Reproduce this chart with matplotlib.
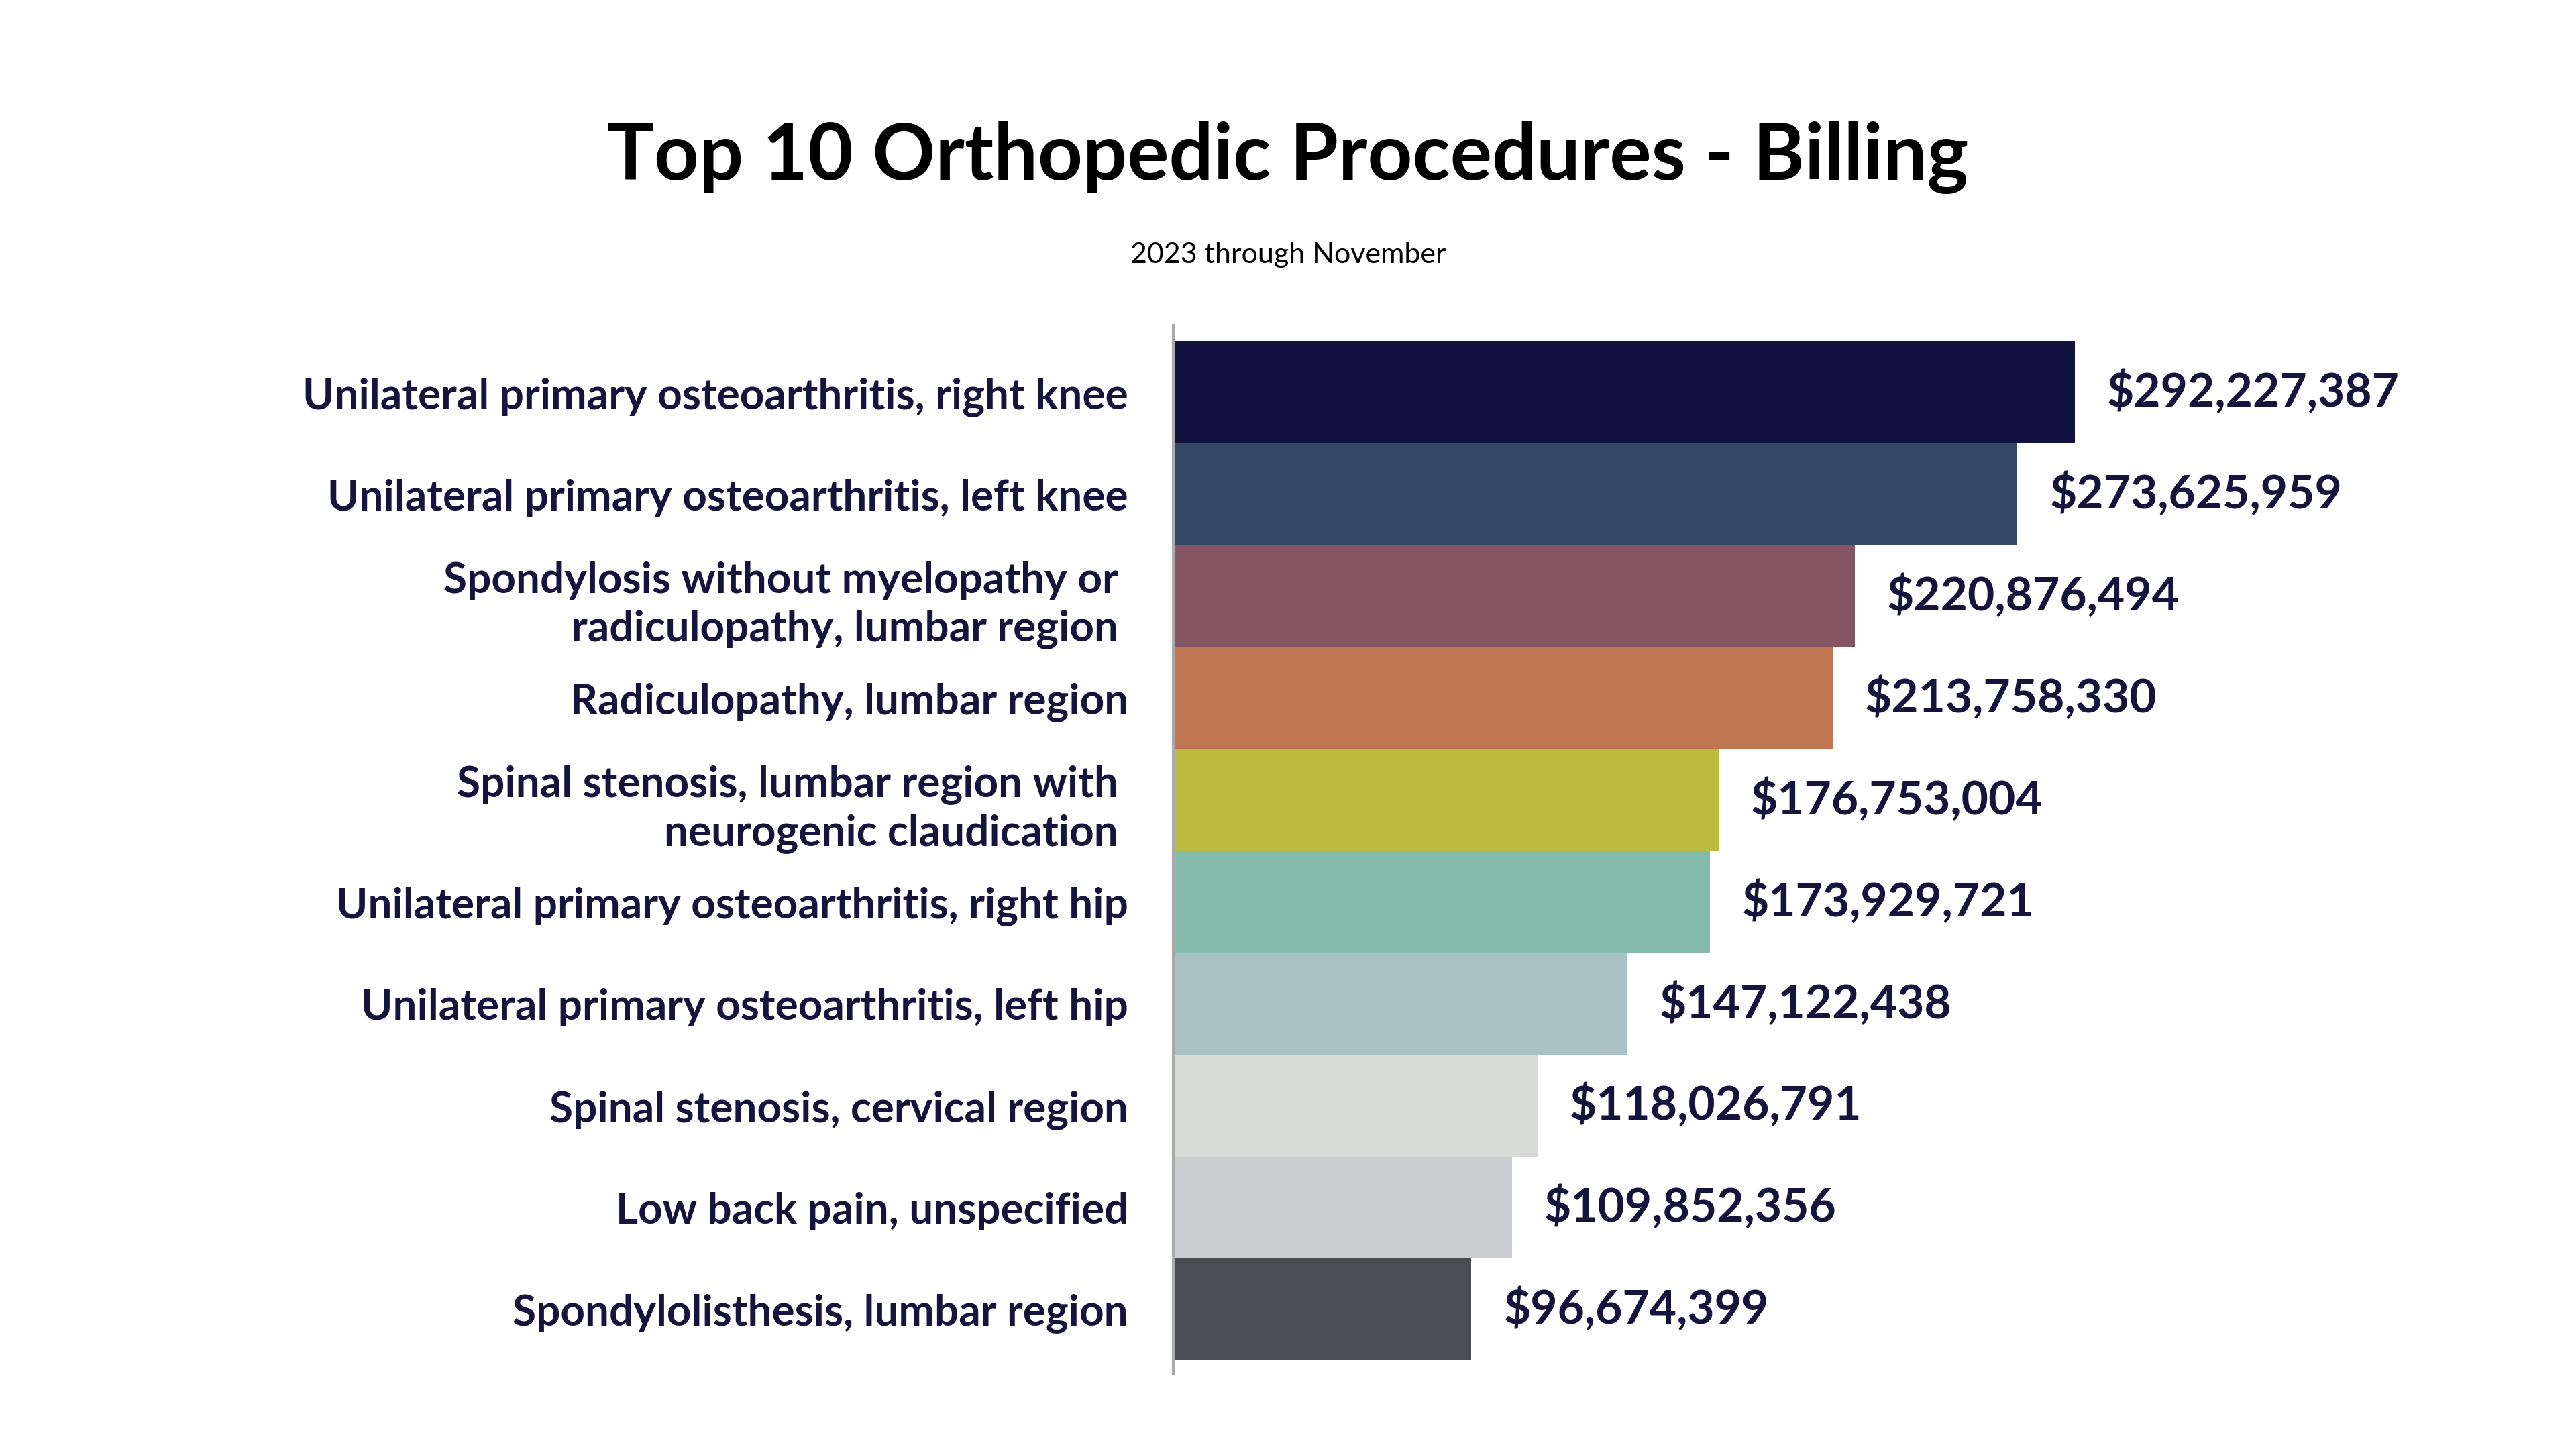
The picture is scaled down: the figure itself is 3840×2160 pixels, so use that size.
import matplotlib
matplotlib.use("Agg")
import matplotlib.pyplot as plt
from matplotlib.transforms import offset_copy

categories = [
    "Unilateral primary osteoarthritis, right knee",
    "Unilateral primary osteoarthritis, left knee",
    "Spondylosis without myelopathy or \nradiculopathy, lumbar region ",
    "Radiculopathy, lumbar region",
    "Spinal stenosis, lumbar region with \nneurogenic claudication ",
    "Unilateral primary osteoarthritis, right hip",
    "Unilateral primary osteoarthritis, left hip",
    "Spinal stenosis, cervical region",
    "Low back pain, unspecified",
    "Spondylolisthesis, lumbar region",
]
values = [292227387, 273625959, 220876494, 213758330, 176753004,
          173929721, 147122438, 118026791, 109852356, 96674399]
colors = ["#12123f", "#334862", "#845563", "#c07650", "#bbbb3f",
          "#85bbab", "#a9c1c1", "#d8dad8", "#cccdd1", "#4b4d52"]

navy = "#14143c"
plt.rcParams['font.family'] = ['Lato', 'DejaVu Sans']
fig = plt.figure(figsize=(38.4, 21.6), dpi=100)
ax = fig.add_axes([0.4554, 0.052, 0.5446, 0.7235])
y = list(range(len(values)))
ax.barh(y, values, height=1.0, color=colors)
ax.set_ylim(9.5 + 0.13, -0.5 - 0.16)
ax.set_xlim(0, 454.6e6)
for s in ["top", "right", "bottom"]:
    ax.spines[s].set_visible(False)
ax.spines["left"].set_color("#aaaaaa")
ax.spines["left"].set_linewidth(3)
ax.set_xticks([])
ax.set_yticks(y)
ax.set_yticklabels(categories, fontsize=46, fontweight="bold", color=navy,
                   linespacing=1.3)
ax.tick_params(axis="y", length=0, pad=48)
for yi, v in zip(y, values):
    ax.text(v, yi, f"${v:,}", va="center", ha="left", fontsize=50,
            fontweight="bold", color=navy,
            transform=offset_copy(ax.transData, fig=fig, x=48, y=0, units="dots"))
fig.text(0.5, 0.891, "Top 10 Orthopedic Procedures - Billing", ha="center",
         va="center", fontsize=84, fontweight="bold", color="black")
fig.text(0.5, 0.824, "2023 through November", ha="center", va="center",
         fontsize=31, color="black")
fig.savefig("out.png", dpi=100, facecolor="white")
